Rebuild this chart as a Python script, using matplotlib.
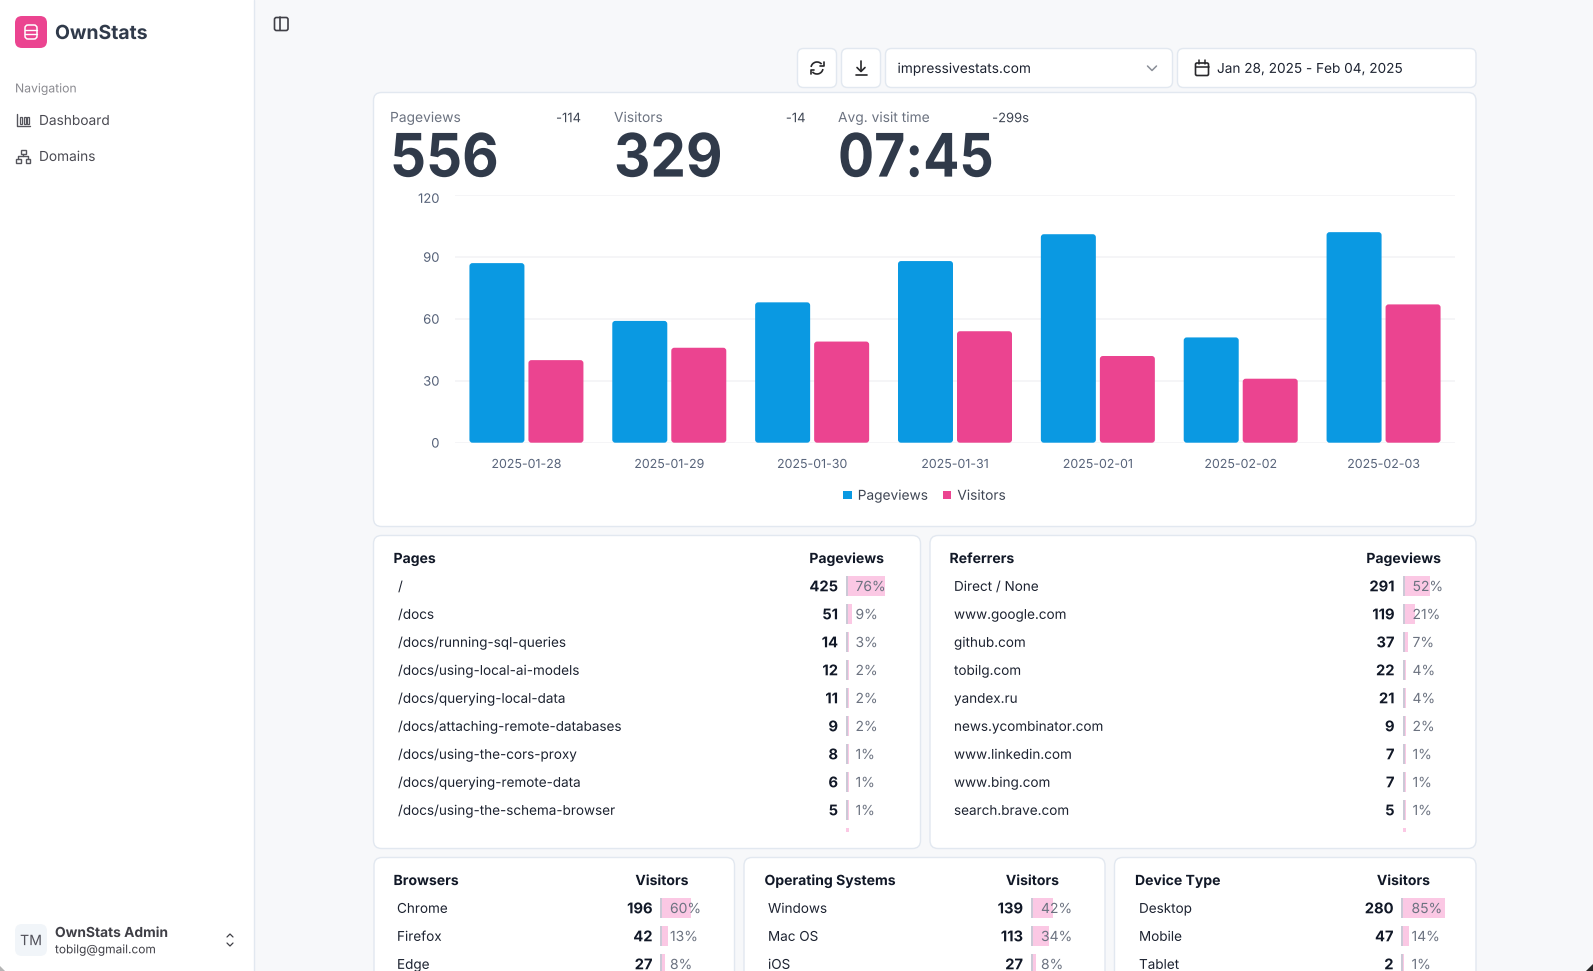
import matplotlib
matplotlib.use('Agg')
import numpy as np
import matplotlib.pyplot as plt
from matplotlib.patches import FancyBboxPatch, Rectangle, Patch, Arc, Polygon
from matplotlib.patheffects import AbstractPathEffect, Normal
from matplotlib.transforms import Affine2D, ScaledTranslation

plt.rcParams['font.family'] = ['Inter', 'DejaVu Sans']
plt.rcParams['text.hinting'] = 'none'
plt.rcParams['text.hinting_factor'] = 1
# draw the text as paths, otherwise agg snaps every baseline to a whole pixel
plt.rcParams['path.effects'] = [Normal()]

W, H = 1593, 971

# chart data
dates = ['2025-01-28', '2025-01-29', '2025-01-30', '2025-01-31', '2025-02-01', '2025-02-02', '2025-02-03']
pageviews = [87, 59, 68, 88, 101, 51, 102]
visitors = [40, 46, 49, 54, 42, 31, 67]
y_ticks = [0, 30, 60, 90, 120]

# tables
pages = ['/', '/docs', '/docs/running-sql-queries', '/docs/using-local-ai-models', '/docs/querying-local-data',
         '/docs/attaching-remote-databases', '/docs/using-the-cors-proxy', '/docs/querying-remote-data',
         '/docs/using-the-schema-browser']
pages_n = [425, 51, 14, 12, 11, 9, 8, 6, 5]
pages_pct = [76, 9, 3, 2, 2, 2, 1, 1, 1]
refs = ['Direct / None', 'www.google.com', 'github.com', 'tobilg.com', 'yandex.ru', 'news.ycombinator.com',
        'www.linkedin.com', 'www.bing.com', 'search.brave.com']
refs_n = [291, 119, 37, 22, 21, 9, 7, 7, 5]
refs_pct = [52, 21, 7, 4, 4, 2, 1, 1, 1]
browsers = ['Chrome', 'Firefox', 'Edge']
browsers_n = [196, 42, 27]
browsers_pct = [60, 13, 8]
systems = ['Windows', 'Mac OS', 'iOS']
systems_n = [139, 113, 27]
systems_pct = [42, 34, 8]
devices = ['Desktop', 'Mobile', 'Tablet']
devices_n = [280, 47, 2]
devices_pct = [85, 14, 1]

BG = '#f7f8fa'
BORDER = '#e2e8f0'
BLUE = '#0a99e2'
PINK = '#eb4490'
DARK = '#303a4a'
INK = '#111827'
GREY = '#6b7280'
PX = 0.72  # css px to pt at dpi 100

fig = plt.figure(figsize=(W / 100, H / 100), dpi=100, facecolor=BG)
ui = fig.add_axes([0, 0, 1, 1])
ui.set_xlim(0, W)
ui.set_ylim(H, 0)
ui.axis('off')


class Squeeze(AbstractPathEffect):
    # the big numbers have negative letter spacing in the original
    def __init__(self, x0, k):
        super().__init__()
        self.x0 = x0
        self.k = k

    def draw_path(self, renderer, gc, tpath, affine, rgbFace=None):
        squeeze = Affine2D().translate(-self.x0, 0).scale(self.k, 1).translate(self.x0, 0)
        renderer.draw_path(gc, tpath, affine + squeeze, rgbFace)


def box(x0, y0, x1, y1, r=8, fc='white', ec=BORDER, lw=1.0, z=1):
    ui.add_patch(FancyBboxPatch((x0, y0), x1 - x0, y1 - y0, boxstyle=f'round,pad=0,rounding_size={r}',
                                fc=fc, ec=ec, lw=lw, zorder=z))


def txt(x, y, s, size=13.6, color=INK, weight='normal', ha='left', z=5):
    return ui.text(x, y + 0.36 * size, s, fontsize=size * PX, color=color, fontweight=weight, ha=ha,
                   va='baseline', zorder=z)


def line(xs, ys, color='#3f3f46', lw=1.1, z=5):
    ui.plot(xs, ys, color=color, lw=lw, zorder=z, solid_capstyle='round', solid_joinstyle='round')


def table(title_x, title, head, names, nums, pcts, name_x, num_x, bar_x, pct_x, head_r, head_y, first_y):
    txt(title_x, head_y, title, 14, INK, 'bold')
    txt(head_r, head_y, head, 14, INK, 'bold', ha='right')
    for i in range(len(names)):
        y = first_y + i * 28
        txt(name_x, y, names[i], 13.5, '#1c2230')
        txt(num_x, y, str(nums[i]), 14.7, INK, 'bold', ha='right')
        w = max(3, pcts[i] * 0.5 + 1)
        ui.add_patch(Rectangle((bar_x, y - 10), w, 20, fc='#fbc8e4', ec='none', zorder=2))
        ui.add_patch(Rectangle((bar_x, y - 10), 2, 20, fc='#cbc9d6', ec='none', zorder=3))
        txt(pct_x, y, f'{pcts[i]}%', 13.9, GREY)


# sidebar
ui.add_patch(Rectangle((0, 0), 254, H, fc='white', ec='none', zorder=0.5))
line([254, 254], [0, H], BORDER, 1.0, 0.6)
box(15, 16, 47, 48, r=7, fc=PINK, ec='none')
ui.add_patch(FancyBboxPatch((25, 25), 12, 14, boxstyle='round,pad=0,rounding_size=3', fc='none', ec='white', lw=1.1, zorder=5))
line([25, 37], [30, 30], 'white', 1.0)
line([25, 37], [34.5, 34.5], 'white', 1.0)
txt(55, 32, 'OwnStats', 19.4, DARK, 'bold')
txt(15, 88, 'Navigation', 12.2, '#8a8a90')
txt(39, 120, 'Dashboard', 13.7, '#4a4a52')
txt(39, 156, 'Domains', 13.7, '#4a4a52')

# chart icon
line([16.5, 16.5, 29.5], [114, 126, 126], '#55555c', 1.0)
for bx in [19.5, 23.5, 27]:
    ui.add_patch(Rectangle((bx, 117), 2, 7, fc='none', ec='#55555c', lw=0.9, zorder=5))
# network icon
ui.add_patch(Rectangle((20.5, 150), 5, 4, fc='none', ec='#55555c', lw=1.0, zorder=5))
ui.add_patch(Rectangle((16, 159), 4.5, 4, fc='none', ec='#55555c', lw=1.0, zorder=5))
ui.add_patch(Rectangle((25.5, 159), 4.5, 4, fc='none', ec='#55555c', lw=1.0, zorder=5))
line([18.2, 18.2, 27.8, 27.8], [159, 156.5, 156.5, 159], '#55555c', 1.0)
line([23, 23], [154, 156.5], '#55555c', 1.0)

# sidebar footer
box(15, 924, 47, 956, r=7, fc='#f1f5f9', ec='none')
txt(31, 940, 'TM', 14.2, '#52525b', ha='center')
txt(55, 932, 'OwnStats Admin', 13.8, '#3f3f46', 'bold')
txt(55, 949, 'tobilg@gmail.com', 11.9, '#3f3f46')
line([227, 230, 233], [937, 934, 937], '#3f3f46', 0.9)
line([227, 230, 233], [943, 946, 943], '#3f3f46', 0.9)

# window corners of the screenshot
ui.add_patch(Polygon([(0, 971), (0, 966), (5, 971)], fc='#b5b5b5', ec='none', zorder=6))
ui.add_patch(Polygon([(1593, 971), (1593, 964), (1586, 971)], fc='#2a2a2a', ec='none', zorder=6))

# toggle icon
box(274.5, 17.5, 288, 30.5, r=2, fc='none', ec='#3f3f46', lw=1.2, z=5)
line([279.5, 279.5], [17.5, 30.5], '#3f3f46', 1.2)

# toolbar
box(797.5, 48.5, 836.5, 87.5, r=6)
box(841.5, 48.5, 880.5, 87.5, r=6)
box(885.5, 48.5, 1172.5, 87.5, r=6)
box(1177.5, 48.5, 1476, 87.5, r=6)
ui.add_patch(Arc((817, 68), 12, 12, theta1=190, theta2=320, ec='#27272a', lw=1.2, zorder=5))
ui.add_patch(Arc((817, 68), 12, 12, theta1=10, theta2=140, ec='#27272a', lw=1.2, zorder=5))
line([823.5, 823.5, 820], [62, 66, 66], '#27272a', 1.2)
line([810.5, 810.5, 814], [74, 70, 70], '#27272a', 1.2)
line([861, 861], [61.5, 71.5], '#27272a', 1.2)
line([857, 861, 865], [67.5, 71.5, 67.5], '#27272a', 1.2)
line([855.5, 866.5], [75, 75], '#27272a', 1.2)
txt(897.5, 68, 'impressivestats.com', 13.7, '#1c2230')
line([1147.5, 1152, 1156.5], [66, 70.5, 66], '#8a8f98', 1.1)
box(1195.5, 63, 1208.5, 75.5, r=1.5, fc='none', ec='#27272a', lw=1.2, z=5)
line([1195.5, 1208.5], [67, 67], '#27272a', 1.1)
line([1199, 1199], [60.5, 64], '#27272a', 1.1)
line([1205, 1205], [60.5, 64], '#27272a', 1.1)
txt(1217, 68, 'Jan 28, 2025 - Feb 04, 2025', 13.6, '#1c2230')

# stat card
box(373.5, 92.5, 1476, 526.5)
stats = [(390, 581, 'Pageviews', '-114', '556', 0.94), (614, 805.5, 'Visitors', '-14', '329', 0.94),
         (838, 1029, 'Avg. visit time', '-299s', '07:45', 0.893)]
for sx, dx, label, delta, big, k in stats:
    txt(sx, 117, label, 13.8, GREY)
    txt(dx, 117.5, delta, 13, '#3f4654', ha='right')
    t = txt(sx, 155, big, 60, DARK, 'bold')
    t.set_path_effects([Squeeze(sx, k)])

# tables
box(373.5, 535.5, 920.5, 848.5)
table(393.5, 'Pages', 'Pageviews', pages, pages_n, pages_pct, 398, 838, 846, 855.5, 884, 558, 586)
ui.add_patch(Rectangle((846, 828.5), 3, 4, fc='#fbc8e4', ec='none', zorder=2))
box(930, 535.5, 1476, 848.5)
table(949.5, 'Referrers', 'Pageviews', refs, refs_n, refs_pct, 954, 1394.5, 1403, 1412.5, 1441, 558, 586)
ui.add_patch(Rectangle((1403, 828.5), 3, 4, fc='#fbc8e4', ec='none', zorder=2))
box(374, 857.5, 734.5, 1000)
table(393.5, 'Browsers', 'Visitors', browsers, browsers_n, browsers_pct, 397, 652.5, 660, 670, 688.5, 880, 908)
box(744, 857.5, 1105, 1000)
table(764.5, 'Operating Systems', 'Visitors', systems, systems_n, systems_pct, 768, 1023, 1031, 1041, 1059, 880, 908)
box(1114.5, 857.5, 1476, 1000)
table(1135, 'Device Type', 'Visitors', devices, devices_n, devices_pct, 1139, 1393.5, 1401, 1411.5, 1430, 880, 908)

# bar chart
ax = fig.add_axes([455 / W, 1 - 442.7 / H, (1455 - 455) / W, (442.7 - 195) / H], facecolor='none')
ax.set_xlim(-0.5, 6.5)
ax.set_ylim(0, 120)
step = 1000 / 7
bar_w = 55 / step
gap = 4 / step
aspect = (120 / 247.7) / (1 / step)
for i in range(len(dates)):
    for x0, val, col in [(i - bar_w - gap / 2, pageviews[i], BLUE), (i + gap / 2, visitors[i], PINK)]:
        ax.add_patch(FancyBboxPatch((x0, 0), bar_w, val, boxstyle=f'round,pad=0,rounding_size={3 / step}',
                                    mutation_aspect=aspect, fc=col, ec='none', zorder=3))
ax.set_xticks(range(len(dates)))
ax.set_xticklabels(dates)
ax.set_yticks(y_ticks)
ax.grid(axis='y', color='#f3f4f6', lw=1.2)
ax.set_axisbelow(True)
ax.tick_params(length=0, labelcolor='#566279')
ax.tick_params(axis='x', pad=11.5, labelsize=12.4 * PX)
ax.tick_params(axis='y', pad=11.2, labelsize=13 * PX)
for s in ax.spines.values():
    s.set_visible(False)
# the top label sits below its gridline in the original
top_label = ax.get_yticklabels()[-1]
top_label.set_transform(top_label.get_transform() + ScaledTranslation(0, -3 / 100, fig.dpi_scale_trans))
handles = [Patch(fc=BLUE, ec='none', label='Pageviews'), Patch(fc=PINK, ec='none', label='Visitors')]
ax.legend(handles=handles, loc='center', bbox_to_anchor=(924.5 / W, 1 - 496 / H), bbox_transform=fig.transFigure,
          ncol=2, frameon=False, fontsize=13.7 * PX, labelcolor='#3f4654', handlelength=0.6, handleheight=0.6,
          handletextpad=0.45, columnspacing=1.1)

fig.savefig('out.png', dpi=100, facecolor=BG)
